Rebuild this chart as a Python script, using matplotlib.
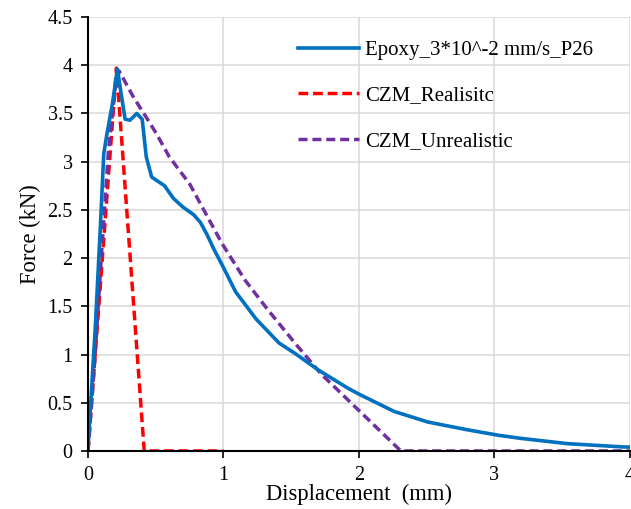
import matplotlib
matplotlib.use("Agg")
import matplotlib.pyplot as plt

plt.rcParams['font.family'] = ['Liberation Serif', 'DejaVu Serif']

## test data
epoxy_x = [0, 0.005, 0.054, 0.091, 0.116, 0.14, 0.18, 0.217, 0.245, 0.274, 0.31, 0.36,
           0.40, 0.43, 0.47, 0.565, 0.63, 0.70, 0.78, 0.83, 0.88, 0.93, 0.99, 1.09, 1.24,
           1.41, 1.53, 1.70, 1.92, 2.0, 2.26, 2.51, 2.8, 3.03, 3.2, 3.54, 3.95, 4.0]
epoxy_y = [0, 0.15, 1.29, 2.32, 3.08, 3.29, 3.6, 3.96, 3.7, 3.44, 3.43, 3.50,
           3.44, 3.05, 2.84, 2.75, 2.62, 2.53, 2.45, 2.37, 2.24, 2.09, 1.93, 1.65, 1.37,
           1.12, 1.01, 0.84, 0.65, 0.59, 0.41, 0.30, 0.22, 0.163, 0.13, 0.076, 0.042, 0.04]

## CZM realistic
real_x = [0, 0.21, 0.415, 1.0]
real_y = [0, 3.97, 0, 0]

## CZM unrealistic
unreal_x = [0, 0.05, 0.1, 0.15, 0.2, 0.23, 0.335, 0.43, 0.505, 0.60, 0.75, 0.99,
            1.16, 1.33, 1.53, 1.72, 2.0, 2.31, 4.0]
unreal_y = [0, 0.95, 2.05, 3.1, 3.75, 3.94, 3.67, 3.46, 3.29, 3.05, 2.77, 2.15,
            1.77, 1.46, 1.115, 0.80, 0.42, 0.0, 0.0]

x_ticks = [0, 1, 2, 3, 4]
y_ticks = [0, 0.5, 1, 1.5, 2, 2.5, 3, 3.5, 4, 4.5]

fig = plt.figure(figsize=(6.31, 5.09), dpi=100)
ax = fig.add_axes([0.1395, 0.114, 0.8585, 0.8526])

ax.plot(epoxy_x, epoxy_y, color='#0070C0', lw=2.6, label='Epoxy_3*10^-2 mm/s_P26', zorder=4)
ax.plot(real_x, real_y, color='#FF0000', lw=2.5, dashes=(2.8, 1.4), label='CZM_Realisitc', zorder=3)
ax.plot(unreal_x, unreal_y, color='#7030A0', lw=2.5, dashes=(2.6, 1.4), label='CZM_Unrealistic', zorder=3)

ax.set_xlim(0, 4)
ax.set_ylim(0, 4.5)
ax.set_xticks(x_ticks)
ax.set_yticks(y_ticks)
ax.set_xticklabels([str(t) for t in x_ticks])
ax.set_yticklabels(['0', '0.5', '1', '1.5', '2', '2.5', '3', '3.5', '4', '4.5'])
ax.grid(True, color='#D9D9D9', lw=1.1)
ax.set_axisbelow(True)

for s in ['top', 'right']:
    ax.spines[s].set_visible(False)
for s in ['left', 'bottom']:
    ax.spines[s].set_linewidth(1.5)
    ax.spines[s].set_zorder(5)

ax.tick_params(axis='both', direction='out', length=5, width=1.2, labelsize=14.5, pad=6)

ax.set_xlabel('Displacement  (mm)', fontsize=16.3, labelpad=-1)
ax.set_ylabel('Force (kN)', fontsize=16.3, labelpad=5)

ax.legend(loc='upper right', frameon=False, fontsize=15, handlelength=2.9,
          handletextpad=0.3, labelspacing=1.25, bbox_to_anchor=(0.955, 0.975),
          borderaxespad=0.2)

fig.savefig('out.png', dpi=100)
